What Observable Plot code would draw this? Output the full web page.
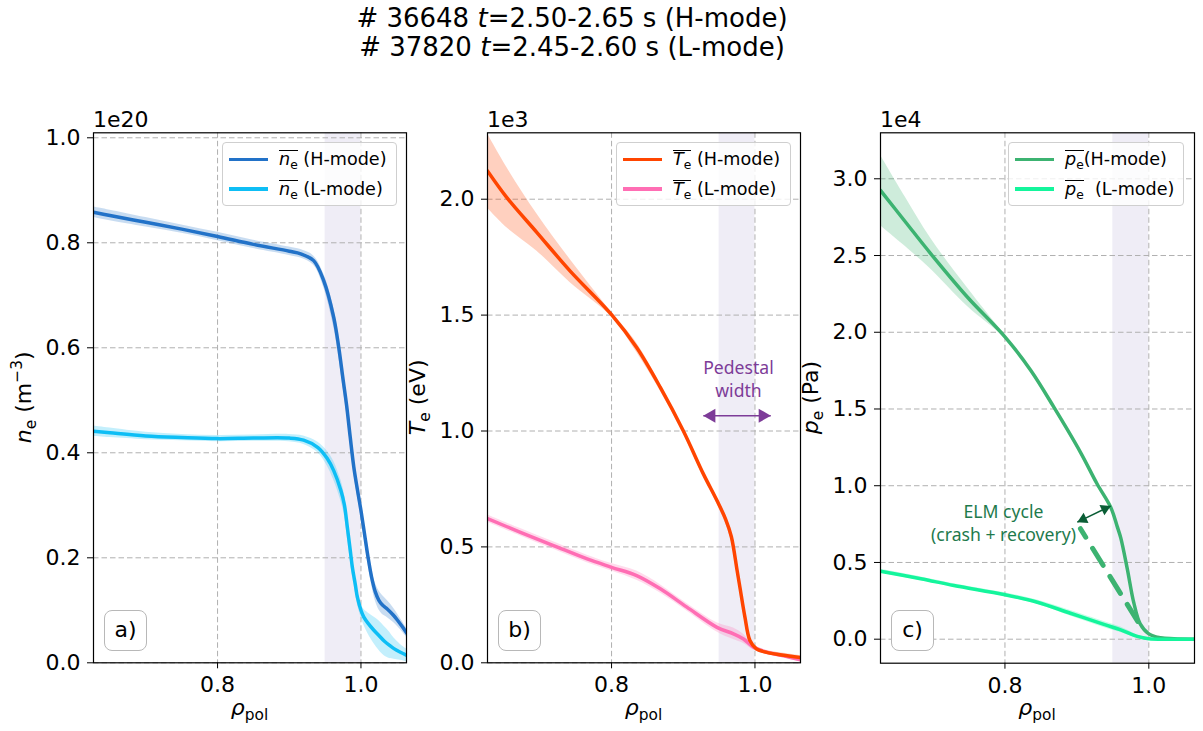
<!DOCTYPE html>
<html>
<head>
<meta charset="utf-8">
<script src="https://cdn.jsdelivr.net/npm/d3@7"></script>
<script src="https://cdn.jsdelivr.net/npm/@observablehq/plot@0.6"></script>
<style>
  body { margin: 0; background: #fff; }
  #fig { position: relative; width: 1203px; height: 731px; overflow: hidden; font-family: "DejaVu Sans", sans-serif; color: #000; background: #fff; }
  #fig svg { position: absolute; top: 0; }
  .title { position: absolute; left: 0; width: 1144px; text-align: center; font-size: 26px; line-height: 29px; top: 4px; white-space: nowrap; }
  .legend { position: absolute; border: 1px solid #cfcfcf; border-radius: 4px; background: rgba(255,255,255,0.8); font-size: 17.6px; box-sizing: border-box; }
  .legend .ln { position: absolute; height: 3.5px; }
  .legend .tx { position: absolute; line-height: 20px; white-space: pre; }
  .ov { display: inline-block; border-top: 1.4px solid #000; line-height: 1; }
  .sb { font-size: 70%; vertical-align: -0.3em; line-height: 0; }
  .plab { position: absolute; border: 1.5px solid #b8b8b8; border-radius: 8px; background: #fff; font-size: 22px; text-align: center; box-sizing: border-box; line-height: 38px; }
</style>
</head>
<body>
<div id="fig">
  <div class="title"># 36648 <i>t</i>=2.50-2.65 s (H-mode)<br># 37820 <i>t</i>=2.45-2.60 s (L-mode)</div>
</div>
<script>
// ---------------- data ----------------
const xDomain = [0.627, 1.0635];
const xTicks = [0.8, 1.0];
const pedestal = [0.95, 1.0];

// panel a: density (1e20 m^-3)
const rhoNeH = [0.627, 0.65, 0.70, 0.75, 0.80, 0.85, 0.90, 0.916, 0.934, 0.948, 0.962, 0.969, 0.975, 0.98, 0.985, 0.99, 0.995, 1.0, 1.005, 1.01, 1.015, 1.02, 1.025, 1.03, 1.037, 1.045, 1.051, 1.058, 1.064];
const neH    = [0.858, 0.852, 0.839, 0.826, 0.812, 0.797, 0.784, 0.779, 0.766, 0.728, 0.658, 0.601, 0.54, 0.49, 0.43, 0.373, 0.33, 0.29, 0.245, 0.2, 0.162, 0.135, 0.119, 0.11, 0.102, 0.091, 0.081, 0.068, 0.056];
const neHerr = [0.01, 0.01, 0.009, 0.008, 0.008, 0.008, 0.008, 0.008, 0.009, 0.013, 0.018, 0.018, 0.016, 0.014, 0.012, 0.012, 0.012, 0.012, 0.012, 0.013, 0.015, 0.017, 0.018, 0.018, 0.016, 0.014, 0.012, 0.01, 0.008];
const rhoNeL = [0.627, 0.65, 0.70, 0.75, 0.80, 0.85, 0.90, 0.92, 0.94, 0.953, 0.962, 0.972, 0.977, 0.981, 0.985, 0.988, 0.992, 0.995, 1.0, 1.004, 1.01, 1.018, 1.025, 1.032, 1.04, 1.046, 1.055, 1.064];
const neL    = [0.441, 0.438, 0.432, 0.429, 0.427, 0.428, 0.428, 0.424, 0.410, 0.389, 0.366, 0.328, 0.30, 0.258, 0.215, 0.182, 0.15, 0.125, 0.10, 0.087, 0.075, 0.062, 0.052, 0.042, 0.033, 0.027, 0.02, 0.014];
const neLerr = [0.01, 0.009, 0.007, 0.006, 0.006, 0.006, 0.007, 0.008, 0.01, 0.014, 0.018, 0.02, 0.02, 0.02, 0.018, 0.016, 0.014, 0.013, 0.013, 0.015, 0.02, 0.025, 0.028, 0.028, 0.025, 0.02, 0.015, 0.012];

// panel b: temperature (1e3 eV)
const rhoTeH = [0.627, 0.654, 0.696, 0.742, 0.80, 0.835, 0.868, 0.90, 0.928, 0.947, 0.959, 0.967, 0.975, 0.979, 0.986, 0.993, 1.002, 1.016, 1.04, 1.064];
const teH    = [2.122, 2.007, 1.856, 1.691, 1.502, 1.36, 1.188, 1.001, 0.815, 0.70, 0.62, 0.545, 0.40, 0.326, 0.197, 0.096, 0.06, 0.045, 0.033, 0.022];
const teHerr = [0.16, 0.13, 0.08, 0.05, 0.01, 0.02, 0.015, 0.012, 0.012, 0.015, 0.018, 0.02, 0.02, 0.02, 0.018, 0.014, 0.01, 0.008, 0.008, 0.008];
const rhoTeL = [0.627, 0.673, 0.719, 0.766, 0.80, 0.835, 0.868, 0.905, 0.947, 0.97, 0.984, 0.998, 1.016, 1.04, 1.064];
const teL    = [0.622, 0.563, 0.506, 0.448, 0.412, 0.376, 0.319, 0.24, 0.153, 0.125, 0.103, 0.067, 0.046, 0.03, 0.012];
const teLerr = [0.016, 0.016, 0.016, 0.016, 0.016, 0.02, 0.018, 0.016, 0.02, 0.025, 0.02, 0.012, 0.008, 0.008, 0.008];

// panel c: pressure (1e4 Pa)
const rhoPeH = [0.627, 0.662, 0.697, 0.748, 0.80, 0.836, 0.868, 0.905, 0.928, 0.947, 0.956, 0.961, 0.970, 0.979, 0.988, 1.0, 1.016, 1.035, 1.064];
const peH    = [2.924, 2.717, 2.511, 2.228, 1.97, 1.751, 1.512, 1.218, 1.013, 0.86, 0.735, 0.66, 0.46, 0.24, 0.1, 0.035, 0.009, 0.003, 0.0];
const peHerr = [0.23, 0.16, 0.1, 0.06, 0.01, 0.015, 0.015, 0.015, 0.015, 0.015, 0.015, 0.015, 0.015, 0.015, 0.012, 0.01, 0.008, 0.005, 0.005];
const rhoPeL = [0.627, 0.683, 0.729, 0.80, 0.845, 0.891, 0.9375, 0.961, 0.984, 1.0, 1.03, 1.064];
const peL    = [0.443, 0.394, 0.350, 0.290, 0.241, 0.169, 0.096, 0.061, 0.018, 0.003, 0.0, 0.0];
const peLerr = [0.012, 0.012, 0.012, 0.012, 0.014, 0.018, 0.02, 0.018, 0.01, 0.005, 0.004, 0.004];

// ELM cycle dashed trace (crash + recovery)
const elmRho = [0.905, 0.988];
const elmPe  = [0.72, 0.09];

const yTicksA = [0, 0.2, 0.4, 0.6, 0.8, 1.0];
const yTicksB = [0, 0.5, 1.0, 1.5, 2.0];
const yTicksC = [0, 0.5, 1.0, 1.5, 2.0, 2.5, 3.0];

// ---------------- drawing ----------------
const fig = document.getElementById("fig");
const rows = (rho, v, e) => rho.map((r, i) => ({rho: r, v: v[i], lo: v[i] - e[i], hi: v[i] + e[i]}));
const fmt = d3.format(".1f");
const GRID = {stroke: "#b0b0b0", strokeOpacity: 1, strokeWidth: 1, strokeDasharray: "5.5,3"};
const CURVE = "catmull-rom";

function series(data, color) {
  return [
    Plot.areaY(data, {x: "rho", y1: "lo", y2: "hi", fill: color, fillOpacity: 0.25, curve: CURVE, clip: true}),
    Plot.line(data, {x: "rho", y: "v", stroke: color, strokeWidth: 3.5, curve: CURVE, clip: true})
  ];
}

function richText(sel, parts, size) {
  let shift = 0;
  for (const [t, s] of parts) {
    const ts = sel.append("tspan").text(t);
    let target = 0, fs = size;
    if (s === "sub") { target = 0.22 * size; fs = 0.7 * size; }
    if (s === "sup") { target = -0.4 * size; fs = 0.7 * size; }
    ts.attr("dy", target - shift).attr("font-size", fs);
    if (s === "it") ts.attr("font-style", "italic");
    shift = target;
  }
}

function panel(cfg) {
  const {left, width, ml, mr, mb, yDomain, yTicks, marks, ylab, ylabX, offset, tag} = cfg;
  const svg = Plot.plot({
    width, height: 731,
    marginLeft: ml, marginRight: mr, marginTop: 132.3, marginBottom: mb,
    x: {domain: xDomain},
    y: {domain: yDomain},
    style: {fontFamily: "DejaVu Sans", fontSize: "22px", background: "transparent", overflow: "visible", color: "#000"},
    marks: [
      Plot.rect([pedestal], {x1: d => d[0], x2: d => d[1], fill: "#efedf6"}),
      Plot.gridX(xTicks, GRID),
      Plot.gridY(yTicks, GRID),
      ...marks,
      Plot.frame({stroke: "#000", strokeWidth: 1.2}),
      Plot.axisX(xTicks, {tickFormat: fmt, tickSize: 6, tickPadding: 8, fontSize: 22, label: null, stroke: "#000"}),
      Plot.axisY(yTicks, {tickFormat: fmt, tickSize: 6, tickPadding: 7, fontSize: 22, label: null, stroke: "#000"})
    ]
  });
  svg.style.left = left + "px";
  fig.appendChild(svg);
  const s = d3.select(svg);
  const cx = ml + (width - ml - mr) / 2;
  const cy = 132.3 + (731 - mb - 132.3) / 2;
  // y label
  const yl = s.append("text").attr("transform", `translate(${ylabX},${cy}) rotate(-90)`)
    .attr("text-anchor", "middle").attr("font-family", "DejaVu Sans").attr("font-size", 22).attr("fill", "#000");
  richText(yl, ylab, 22);
  // x label
  const xl = s.append("text").attr("x", cx).attr("y", 715).attr("text-anchor", "middle")
    .attr("font-family", "DejaVu Sans").attr("font-size", 22).attr("fill", "#000");
  richText(xl, [["ρ", "it"], ["pol", "sub"]], 22);
  // offset text
  s.append("text").attr("x", ml).attr("y", 127).attr("text-anchor", "start")
    .attr("font-family", "DejaVu Sans").attr("font-size", 22).attr("fill", "#000").text(offset);
  // panel tag
  const tg = document.createElement("div");
  tg.className = "plab";
  tg.style.left = (left + ml + 11) + "px"; tg.style.top = "610px";
  tg.style.width = "43px"; tg.style.height = "41px";
  tg.textContent = tag;
  fig.appendChild(tg);
}

function legend(left, width, items) {
  const box = document.createElement("div");
  box.className = "legend";
  box.style.left = left + "px"; box.style.top = "142px";
  box.style.width = width + "px"; box.style.height = "64px";
  items.forEach(([color, html], i) => {
    const cyRow = 16.5 + i * 29.5;
    const ln = document.createElement("div");
    ln.className = "ln";
    ln.style.left = "6px"; ln.style.width = "39px"; ln.style.top = (cyRow - 1.75) + "px"; ln.style.background = color;
    const tx = document.createElement("div");
    tx.className = "tx";
    tx.style.left = "56px"; tx.style.top = (cyRow - 10.5) + "px";
    tx.innerHTML = html;
    box.appendChild(ln); box.appendChild(tx);
  });
  fig.appendChild(box);
}

const C = {neH: "#2272c8", neL: "#0ebef5", teH: "#ff4500", teL: "#ff6eb4", peH: "#3cb371", peL: "#14f59c"};
const PURPLE = "#7d3c98", DKGREEN = "#0b5e36", TXTGREEN = "#1e7a4c";

// panel a
panel({
  left: 0, width: 420, ml: 93, mr: 14, mb: 68.7,
  yDomain: [0, 1.0095], yTicks: yTicksA,
  marks: [...series(rows(rhoNeH, neH, neHerr), C.neH), ...series(rows(rhoNeL, neL, neLerr), C.neL)],
  ylab: [["n", "it"], ["e", "sub"], [" (m", ""], ["−3", "sup"], [")", ""]], ylabX: 31, offset: "1e20", tag: "a)"
});

// panel b
const pedArrow = [{x1: 0.928, x2: 1.022, y: 1.066}];
panel({
  left: 400, width: 420, ml: 87, mr: 20, mb: 68.7,
  yDomain: [0, 2.2865], yTicks: yTicksB,
  marks: [
    ...series(rows(rhoTeL, teL, teLerr), C.teL), ...series(rows(rhoTeH, teH, teHerr), C.teH),
    Plot.link(pedArrow, {x1: "x1", x2: "x2", y1: "y", y2: "y", stroke: PURPLE, strokeWidth: 1.6}),
    Plot.dot(pedArrow, {x: "x1", y: "y", symbol: "triangle", r: 5.2, rotate: -90, dx: 8, fill: PURPLE, stroke: "none"}),
    Plot.dot(pedArrow, {x: "x2", y: "y", symbol: "triangle", r: 5.2, rotate: 90, dx: -8, fill: PURPLE, stroke: "none"}),
    Plot.text([{x: 0.977, y: 1.2276, t: "Pedestal\nwidth"}], {x: "x", y: "y", text: "t", fill: PURPLE, fontSize: 17.6, fontFamily: "Noto Sans", lineHeight: 1.27})
  ],
  ylab: [["T", "it"], ["e", "sub"], [" (eV)", ""]], ylabX: 25, offset: "1e3", tag: "b)"
});

// panel c
const elmArrow = [{x1: 0.9006, y1: 0.763, x2: 0.947, y2: 0.868}];
const elmTrace = elmRho.map((r, i) => ({rho: r, v: elmPe[i]}));
panel({
  left: 800, width: 403, ml: 80, mr: 9, mb: 68.3,
  yDomain: [-0.1564, 3.2997], yTicks: yTicksC,
  marks: [
    ...series(rows(rhoPeH, peH, peHerr), C.peH), ...series(rows(rhoPeL, peL, peLerr), C.peL),
    Plot.line(elmTrace, {x: "rho", y: "v", stroke: C.peH, strokeWidth: 5, strokeDasharray: "20,13", strokeDashoffset: 10}),
    Plot.link(elmArrow, {x1: "x1", y1: "y1", x2: "x2", y2: "y2", stroke: DKGREEN, strokeWidth: 1.6}),
    Plot.dot(elmArrow, {x: "x1", y: "y1", symbol: "triangle", r: 4.2, rotate: 244.3, dx: 5.8, dy: -2.8, fill: DKGREEN, stroke: "none"}),
    Plot.dot(elmArrow, {x: "x2", y: "y2", symbol: "triangle", r: 4.2, rotate: 64.3, dx: -5.8, dy: 2.8, fill: DKGREEN, stroke: "none"}),
    Plot.text([{x: 0.798, y: 0.762, t: "ELM cycle\n(crash + recovery)"}], {x: "x", y: "y", text: "t", fill: TXTGREEN, fontSize: 17.6, fontFamily: "Noto Sans", lineHeight: 1.27})
  ],
  ylab: [["p", "it"], ["e", "sub"], [" (Pa)", ""]], ylabX: 18, offset: "1e4", tag: "c)"
});

// legends
legend(222, 175, [
  [C.neH, '<span class="ov"><i>n</i><span class="sb">e</span></span> (H-mode)'],
  [C.neL, '<span class="ov"><i>n</i><span class="sb">e</span></span> (L-mode)']
]);
legend(616, 175, [
  [C.teH, '<span class="ov"><i>T</i><span class="sb">e</span></span> (H-mode)'],
  [C.teL, '<span class="ov"><i>T</i><span class="sb">e</span></span> (L-mode)']
]);
legend(1008, 176, [
  [C.peH, '<span class="ov"><i>p</i><span class="sb">e</span></span>(H-mode)'],
  [C.peL, '<span class="ov"><i>p</i><span class="sb">e</span></span>  (L-mode)']
]);
</script>
</body>
</html>
